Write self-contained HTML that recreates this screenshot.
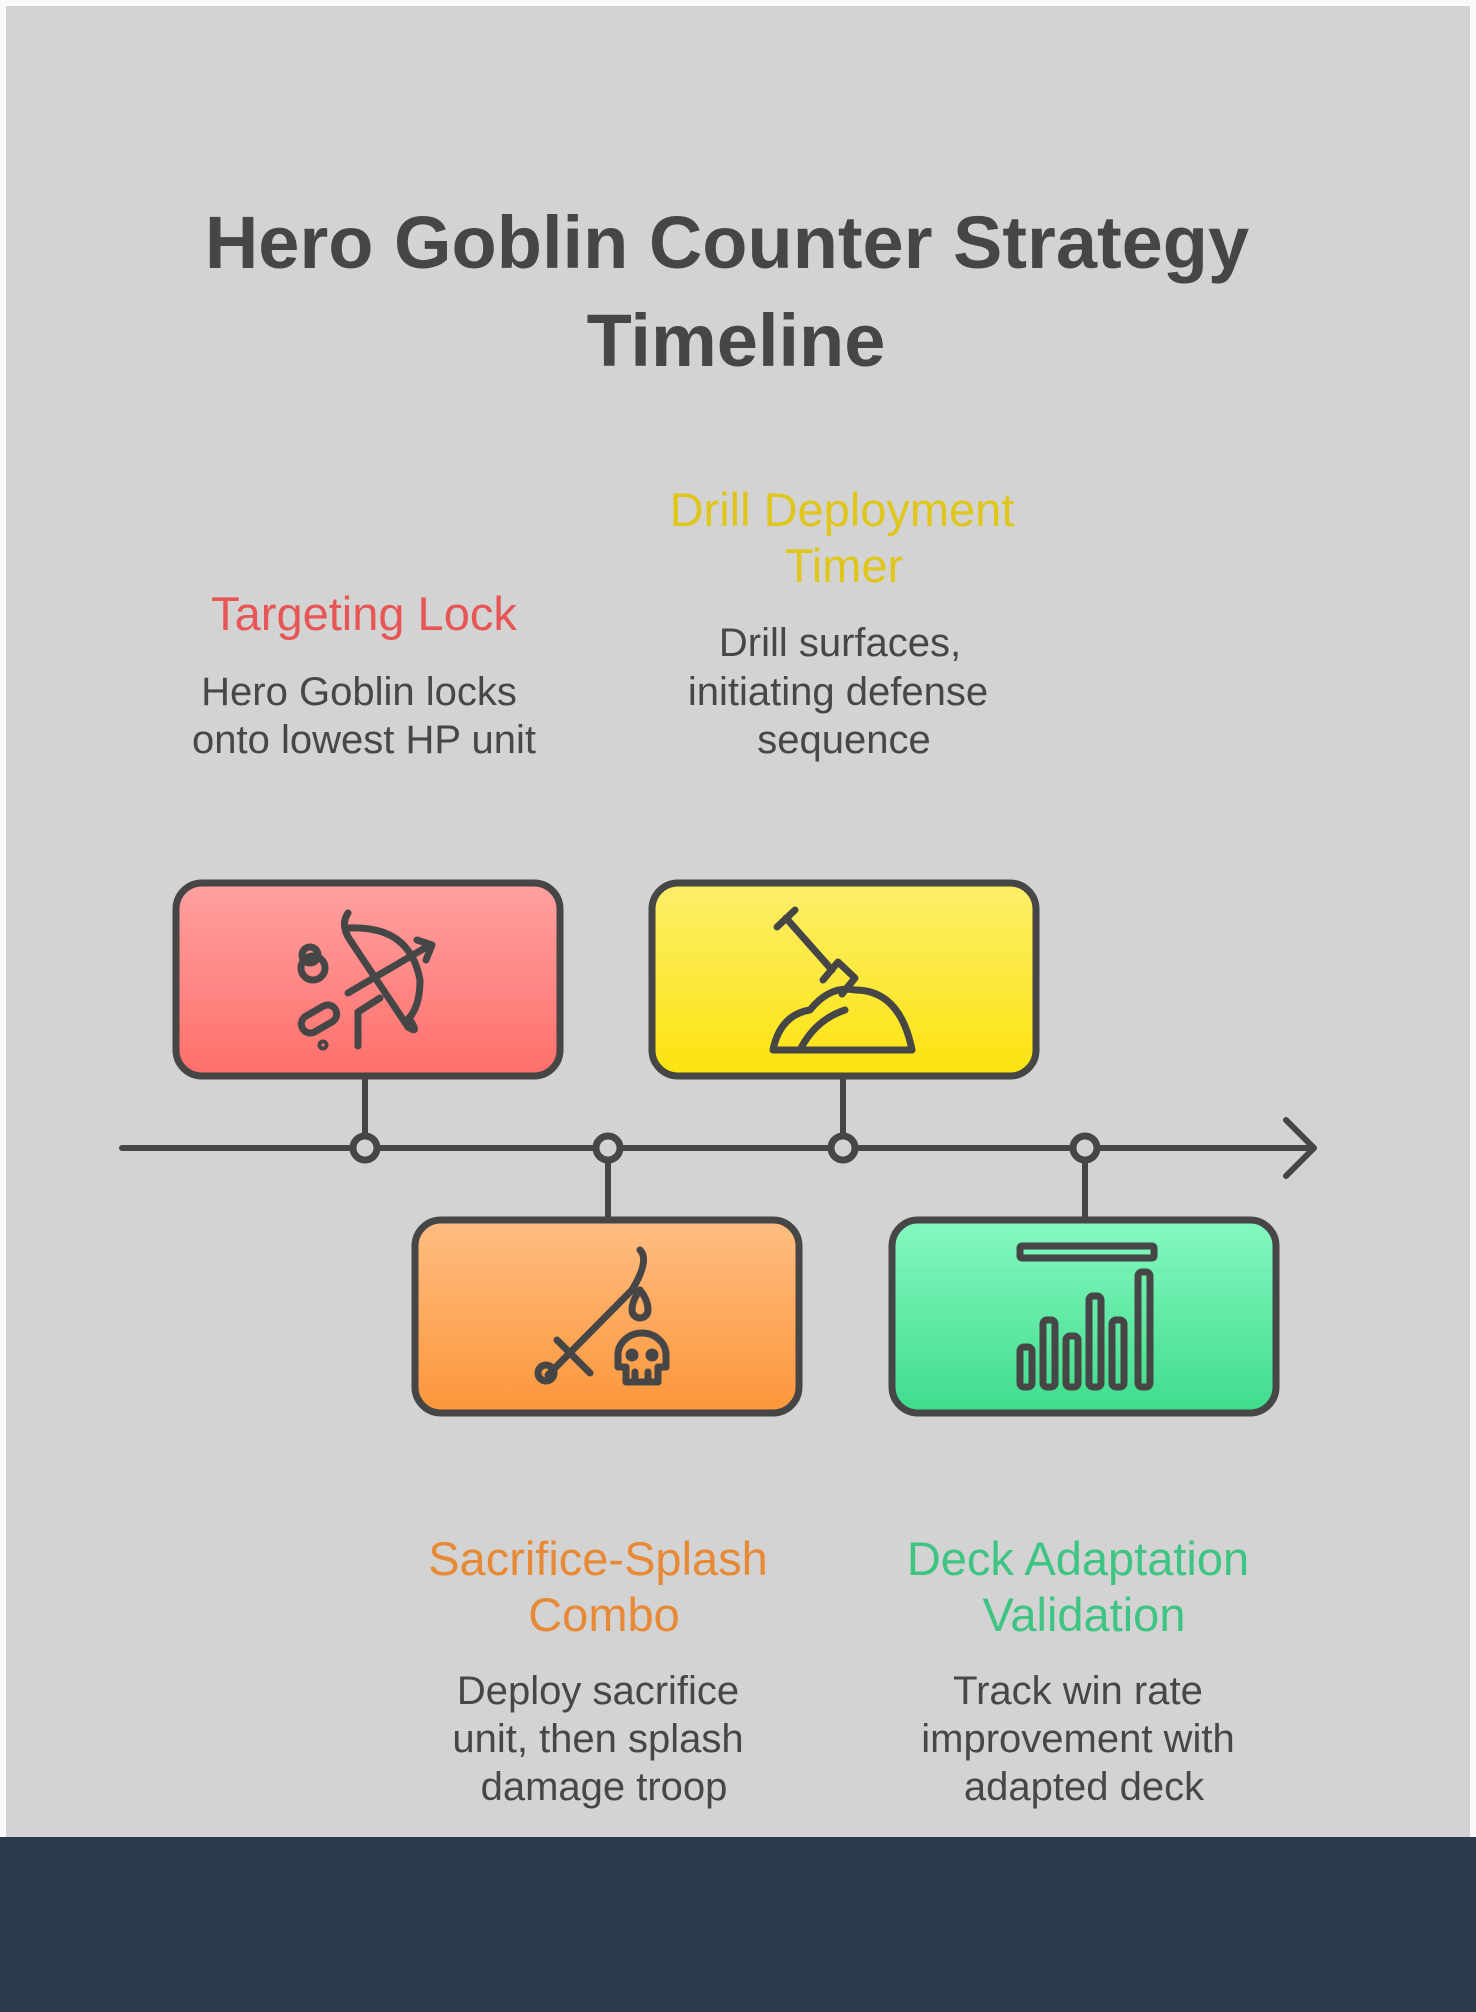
<!DOCTYPE html>
<html><head><meta charset="utf-8"><style>
html,body{margin:0;padding:0;width:1476px;height:2012px;overflow:hidden;background:#fafafa}
svg{display:block}
text{font-family:"Liberation Sans",sans-serif}
</style></head><body>
<svg width="1476" height="2012" viewBox="0 0 1476 2012" xmlns="http://www.w3.org/2000/svg">
<defs>
<linearGradient id="gr" x1="0" y1="0" x2="0" y2="1"><stop offset="0" stop-color="#ffa1a1"/><stop offset="1" stop-color="#ff6f6a"/></linearGradient>
<linearGradient id="gy" x1="0" y1="0" x2="0" y2="1"><stop offset="0" stop-color="#fdee6a"/><stop offset="1" stop-color="#fce30e"/></linearGradient>
<linearGradient id="go" x1="0" y1="0" x2="0" y2="1"><stop offset="0" stop-color="#ffbd82"/><stop offset="1" stop-color="#fc963a"/></linearGradient>
<linearGradient id="gg" x1="0" y1="0" x2="0" y2="1"><stop offset="0" stop-color="#85f8c0"/><stop offset="1" stop-color="#3fdc8c"/></linearGradient>
</defs>
<rect x="6" y="6" width="1464" height="1832" fill="#d3d3d3"/>
<rect x="0" y="1837" width="1476" height="175" fill="#2c3b4e"/>
<g fill="#464646" font-weight="bold" font-size="74" text-anchor="middle">
<text x="727" y="268">Hero Goblin Counter Strategy</text>
<text x="736" y="366">Timeline</text>
</g>
<g font-size="47" text-anchor="middle">
<text x="364" y="630" fill="#e85555">Targeting Lock</text>
<text x="842" y="526" fill="#e0c61a">Drill Deployment</text>
<text x="844" y="582" fill="#e0c61a">Timer</text>
<text x="598" y="1575" fill="#e88a35">Sacrifice-Splash</text>
<text x="604" y="1631" fill="#e88a35">Combo</text>
<text x="1078" y="1575" fill="#3ec483">Deck Adaptation</text>
<text x="1084" y="1631" fill="#3ec483">Validation</text>
</g>
<g font-size="40" text-anchor="middle" fill="#474747">
<text x="359" y="705">Hero Goblin locks</text>
<text x="364" y="753">onto lowest HP unit</text>
<text x="840" y="656">Drill surfaces,</text>
<text x="838" y="705">initiating defense</text>
<text x="844" y="753">sequence</text>
<text x="598" y="1704">Deploy sacrifice</text>
<text x="598" y="1752">unit, then splash</text>
<text x="604" y="1800">damage troop</text>
<text x="1078" y="1704">Track win rate</text>
<text x="1078" y="1752">improvement with</text>
<text x="1084" y="1800">adapted deck</text>
</g>
<g stroke="#464646" stroke-width="6" fill="none" stroke-linecap="round" stroke-linejoin="round">
<line x1="122" y1="1148" x2="1314" y2="1148"/>
<polyline points="1286,1120 1314,1148 1286,1176"/>
<line x1="365" y1="1079" x2="365" y2="1135"/>
<line x1="843" y1="1079" x2="843" y2="1135"/>
<line x1="608" y1="1161" x2="608" y2="1219"/>
<line x1="1085" y1="1161" x2="1085" y2="1219"/>
</g>
<g stroke="#464646" stroke-width="7" fill="#d3d3d3">
<circle cx="365" cy="1148" r="12"/><circle cx="608" cy="1148" r="12"/><circle cx="843" cy="1148" r="12"/><circle cx="1085" cy="1148" r="12"/>
</g>
<g stroke="#464646" stroke-width="7">
<rect x="176" y="883" width="384" height="193" rx="26" fill="url(#gr)"/>
<rect x="652" y="883" width="384" height="193" rx="26" fill="url(#gy)"/>
<rect x="415" y="1220" width="384" height="193" rx="26" fill="url(#go)"/>
<rect x="892" y="1220" width="384" height="193" rx="26" fill="url(#gg)"/>
</g>
<g stroke="#464646" stroke-width="7" fill="none" stroke-linecap="round" stroke-linejoin="round">
<path d="M348 913 Q340 925 350 940 L408 1027 Q420 1035 410 1020"/>
<path d="M348 928 Q410 925 420 980 Q420 1010 405 1022"/>
<line x1="348" y1="993" x2="430" y2="945"/><polyline points="417,940 432,945 426,960"/>
<polyline points="358,1046 358,1012 380,998"/>
<circle cx="313" cy="968" r="12"/><circle cx="310" cy="955" r="8"/>
<rect x="300" y="1010" width="38" height="18" rx="9" transform="rotate(-30 319 1019)"/>
<circle cx="323" cy="1045" r="2"/>
<line x1="777" y1="927" x2="795" y2="910"/><line x1="786" y1="918" x2="832" y2="970"/>
<path d="M823 980 L838 962 L855 978 L842 994"/>
<path d="M773 1050 Q780 1015 810 1010 Q830 985 855 990 Q900 990 912 1050 Z"/>
<path d="M800 1050 Q815 1020 845 1010"/>
<line x1="548" y1="1375" x2="632" y2="1290"/><path d="M632 1290 Q650 1260 640 1250"/>
<circle cx="546" cy="1373" r="8"/>
<line x1="557" y1="1340" x2="590" y2="1373"/>
<path d="M640 1290 Q648 1300 648 1310 A8 8 0 0 1 632 1310 Q632 1300 640 1290Z"/>
<path d="M618 1355 a24 22 0 1 1 48 0 v12 h-8 v15 h-32 v-15 h-8z"/>
<line x1="635" y1="1372" x2="635" y2="1382"/><line x1="648" y1="1372" x2="648" y2="1382"/>
<circle cx="632" cy="1355" r="3" fill="#464646"/><circle cx="652" cy="1355" r="3" fill="#464646"/>
<rect x="1020" y="1246" width="134" height="12" rx="2"/>
<rect x="1020" y="1347" width="12" height="40" rx="4"/>
<rect x="1043" y="1320" width="12" height="67" rx="4"/>
<rect x="1066" y="1336" width="12" height="51" rx="4"/>
<rect x="1089" y="1296" width="12" height="91" rx="4"/>
<rect x="1112" y="1320" width="12" height="67" rx="4"/>
<rect x="1138" y="1272" width="12" height="115" rx="4"/>
</g>
</svg>
</body></html>
